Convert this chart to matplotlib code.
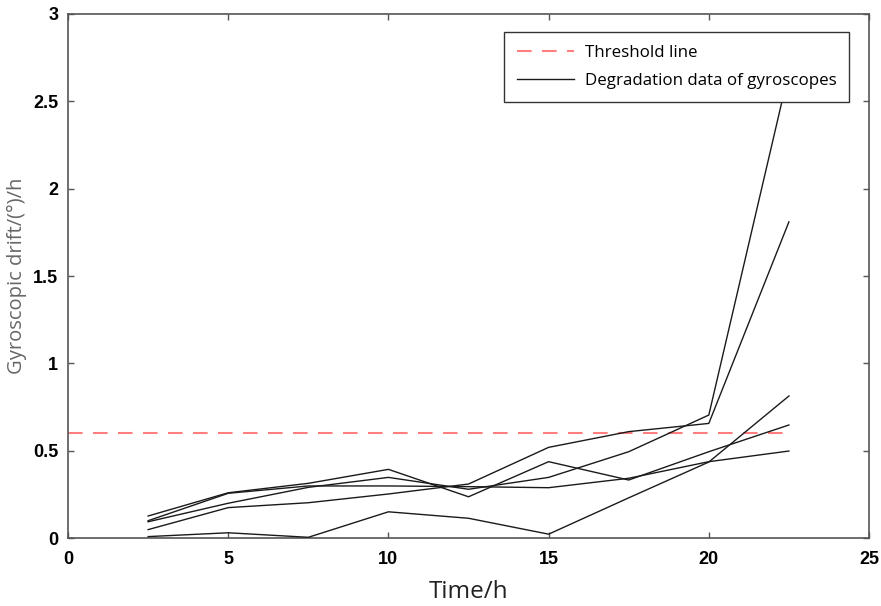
import matplotlib
matplotlib.use("Agg")
import matplotlib.pyplot as plt

# time points (h)
time_h = [2.5, 5, 7.5, 10, 12.5, 15, 17.5, 20, 22.5]

# gyroscope drift for each unit
gyro_1 = [0.048, 0.174, 0.202, 0.252, 0.309, 0.519, 0.609, 0.656, 1.81]
gyro_2 = [0.093, 0.199, 0.290, 0.347, 0.279, 0.347, 0.494, 0.704, 2.67]
gyro_3 = [0.126, 0.259, 0.313, 0.393, 0.236, 0.437, 0.332, 0.494, 0.647]
gyro_4 = [0.099, 0.256, 0.298, 0.298, 0.294, 0.288, 0.342, 0.437, 0.498]
gyro_5 = [0.008, 0.030, 0.004, 0.150, 0.113, 0.022, 0.230, 0.435, 0.813]
gyros = [gyro_1, gyro_2, gyro_3, gyro_4, gyro_5]

threshold = 0.6
threshold_x = [0, 22.5]

xticks = [0, 5, 10, 15, 20, 25]
yticks = [0, 0.5, 1, 1.5, 2, 2.5, 3]
ytick_labels = ['0', '0.5', '1', '1.5', '2', '2.5', '3']

fig = plt.figure(figsize=(8.81, 6.06), dpi=100)
ax = fig.add_axes([0.0772, 0.1122, 0.9092, 0.8647])

ax.plot(threshold_x, [threshold, threshold], color='#ff7f7f', lw=1.5,
        dashes=(7, 5), label='Threshold line', zorder=2)
for i, g in enumerate(gyros):
    ax.plot(time_h, g, color='#1a1a1a', lw=1.0,
            label='Degradation data of gyroscopes' if i == 0 else None, zorder=3)

ax.set_xlim(0, 25)
ax.set_ylim(0, 3)
ax.set_xticks(xticks)
ax.set_yticks(yticks)
ax.set_yticklabels(ytick_labels)
ax.tick_params(direction='in', length=4, width=1, color='#555555',
               top=True, right=True, labelsize=13, pad=7)
for lab in ax.get_xticklabels() + ax.get_yticklabels():
    lab.set_fontweight('bold')
    lab.set_family('Liberation Sans')
ax.tick_params(axis='x', pad=9)
for s in ax.spines.values():
    s.set_color('#555555')
    s.set_linewidth(1.2)

ax.set_xlabel('Time/h', fontsize=17.5, family='Open Sans', color='#222222', labelpad=9)
ax.set_ylabel('Gyroscopic drift/(°)/h', fontsize=14.5, family='Open Sans',
              color='#666666', labelpad=4)

leg = ax.legend(loc='upper right', bbox_to_anchor=(0.975, 0.966), borderaxespad=0,
                prop={'family': 'Open Sans', 'size': 12.2},
                fancybox=False, framealpha=1, edgecolor='#333333',
                handlelength=3.4, handletextpad=0.6,
                borderpad=0.75, labelspacing=0.75)
leg.get_frame().set_linewidth(1.0)
leg.set_zorder(5)

fig.savefig('out.png', dpi=100)
